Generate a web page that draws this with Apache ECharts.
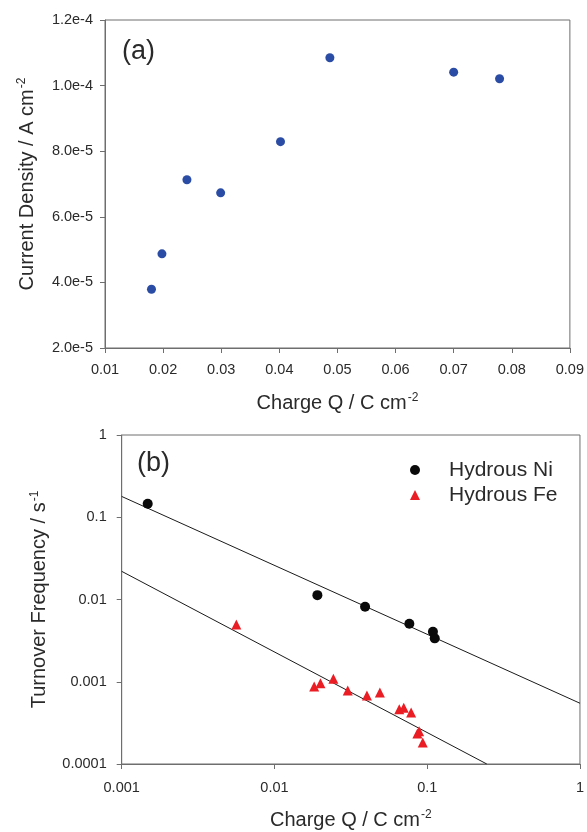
<!DOCTYPE html>
<html>
<head>
<meta charset="utf-8">
<script src="https://cdn.jsdelivr.net/npm/echarts@6/dist/echarts.min.js"></script>
<style>
html,body{margin:0;padding:0;background:#fff;}
#c{width:587px;height:832px;}
</style>
</head>
<body>
<div id="c"></div>
<script>
// ---- Panel (a): current density vs charge ----
var topQ = [0.0180, 0.0198, 0.0241, 0.0299, 0.0402, 0.0487, 0.0700, 0.0779];
var topJ = [3.79e-5, 4.87e-5, 7.13e-5, 6.73e-5, 8.29e-5, 1.085e-4, 1.041e-4, 1.021e-4];
var topXTicks = ['0.01','0.02','0.03','0.04','0.05','0.06','0.07','0.08','0.09'];
var topYTicks = ['2.0e-5','4.0e-5','6.0e-5','8.0e-5','1.0e-4','1.2e-4'];

// ---- Panel (b): turnover frequency vs charge (log-log) ----
var niQ   = [0.00148, 0.0191, 0.0392, 0.0764, 0.109, 0.112];
var niTOF = [0.146, 0.0113, 0.00815, 0.00507, 0.00406, 0.00337];
var feQ   = [0.00563, 0.0182, 0.0200, 0.0243, 0.0302, 0.0403, 0.0490, 0.0656, 0.0702, 0.0785, 0.0862, 0.0885, 0.0935];
var feTOF = [0.00498, 0.000875, 0.00096, 0.00109, 0.000782, 0.00068, 0.00074, 0.000464, 0.000482, 0.000424, 0.000235, 0.000250, 0.000183];
// fitted lines (end points)
var niFitQ   = [0.001, 1];
var niFitTOF = [0.179, 0.000548];
var feFitQ   = [0.001, 0.2455];
var feFitTOF = [0.0220, 0.0001];
var botXTicks = ['0.001','0.01','0.1','1'];
var botYTicks = ['0.0001','0.001','0.01','0.1','1'];

function zip(a, b) { return a.map(function (v, i) { return [v, b[i]]; }); }
function logLabel(arr, minExp) {
  return function (v) {
    var i = Math.round(Math.log10(v)) - minExp;
    return arr[i] !== undefined ? arr[i] : '';
  };
}

var FONT = "'Liberation Sans', Arial, Helvetica, sans-serif";
var AX = '#6e6e6e';
var TXT = '#2a2a2a';

var chart = echarts.init(document.getElementById('c'), null, {renderer: 'canvas'});

var axisCommon = {
  axisLine: {show: true, lineStyle: {color: AX, width: 1}},
  axisTick: {show: true, inside: false, length: 5, lineStyle: {color: AX}},
  splitLine: {show: false},
  minorTick: {show: false},
  nameTextStyle: {color: TXT, fontFamily: FONT}
};

function nameRich() {
  return {
    a: {fontSize: 20, fontFamily: FONT, color: TXT, lineHeight: 24},
    s: {fontSize: 12, fontFamily: FONT, color: TXT, lineHeight: 24, padding: [0, 0, 10, 1]}
  };
}

var option = {
  backgroundColor: '#ffffff',
  animation: false,
  textStyle: {fontFamily: FONT},
  title: [
    {text: '(a)', left: 122, top: 38, padding: 0, textStyle: {fontSize: 27, fontWeight: 'normal', color: TXT, fontFamily: FONT}},
    {text: '(b)', left: 137, top: 450, padding: 0, textStyle: {fontSize: 27, fontWeight: 'normal', color: TXT, fontFamily: FONT}}
  ],
  legend: {
    data: ['Hydrous Ni', 'Hydrous Fe'],
    orient: 'vertical',
    left: 410,
    top: 459,
    itemWidth: 10,
    itemHeight: 10,
    itemGap: 3,
    padding: 0,
    itemStyle: {opacity: 1},
    textStyle: {fontSize: 21, color: TXT, fontFamily: FONT, lineHeight: 22, padding: [0, 0, 0, 24]}
  },
  grid: [
    {left: 105, top: 20, width: 470, height: 328, show: true, borderColor: AX, borderWidth: 1, backgroundColor: 'transparent'},
    {left: 121.7, top: 435, width: 460, height: 330, show: true, borderColor: AX, borderWidth: 1, backgroundColor: 'transparent'}
  ],
  xAxis: [
    Object.assign({}, axisCommon, {
      gridIndex: 0, type: 'value', min: 0.01, max: 0.09, interval: 0.01,
      name: '{a|Charge Q / C cm}{s|-2}', nameLocation: 'middle', nameGap: 43,
      nameTextStyle: {rich: nameRich()},
      axisLabel: {margin: 14, fontSize: 14.5, color: TXT, fontFamily: FONT, showMaxLabel: true, showMinLabel: true,
        formatter: function (v) { return topXTicks[Math.round((v - 0.01) / 0.01)]; }}
    }),
    Object.assign({}, axisCommon, {
      gridIndex: 1, type: 'log', logBase: 10, min: 0.001, max: 1,
      name: '{a|Charge Q / C cm}{s|-2}', nameLocation: 'middle', nameGap: 44,
      nameTextStyle: {rich: nameRich()},
      axisLabel: {margin: 16, fontSize: 14.5, color: TXT, fontFamily: FONT, showMaxLabel: true, showMinLabel: true,
        formatter: logLabel(botXTicks, -3)}
    })
  ],
  yAxis: [
    Object.assign({}, axisCommon, {
      gridIndex: 0, type: 'value', min: 2e-5, max: 1.2e-4, interval: 2e-5,
      name: '{a|Current Density / A cm}{s|-2}', nameLocation: 'middle', nameGap: 66, nameRotate: 90,
      nameTextStyle: {rich: nameRich()},
      axisLabel: {margin: 12, fontSize: 14.5, color: TXT, fontFamily: FONT,
        formatter: function (v) { return topYTicks[Math.round((v - 2e-5) / 2e-5)]; }}
    }),
    Object.assign({}, axisCommon, {
      gridIndex: 1, type: 'log', logBase: 10, min: 0.0001, max: 1,
      name: '{a|Turnover Frequency / s}{s|-1}', nameLocation: 'middle', nameGap: 70, nameRotate: 90,
      nameTextStyle: {rich: nameRich()},
      axisLabel: {margin: 15, fontSize: 14.5, color: TXT, fontFamily: FONT, showMaxLabel: true, showMinLabel: true,
        formatter: logLabel(botYTicks, -4)}
    })
  ],
  series: [
    {
      name: 'Current Density', type: 'scatter', xAxisIndex: 0, yAxisIndex: 0,
      data: zip(topQ, topJ), symbol: 'circle', symbolSize: 9,
      itemStyle: {color: '#2b4ca4', opacity: 1}
    },
    {
      name: 'Ni fit', type: 'line', xAxisIndex: 1, yAxisIndex: 1,
      data: zip(niFitQ, niFitTOF), symbol: 'none', silent: true,
      lineStyle: {color: '#1a1a1a', width: 1}, z: 1
    },
    {
      name: 'Fe fit', type: 'line', xAxisIndex: 1, yAxisIndex: 1,
      data: zip(feFitQ, feFitTOF), symbol: 'none', silent: true,
      lineStyle: {color: '#1a1a1a', width: 1}, z: 1
    },
    {
      name: 'Hydrous Ni', type: 'scatter', xAxisIndex: 1, yAxisIndex: 1,
      data: zip(niQ, niTOF), symbol: 'circle', symbolSize: 10,
      itemStyle: {color: '#0a0a0a', opacity: 1}, z: 3
    },
    {
      name: 'Hydrous Fe', type: 'scatter', xAxisIndex: 1, yAxisIndex: 1,
      data: zip(feQ, feTOF), symbol: 'triangle', symbolSize: 10,
      itemStyle: {color: '#ea1c24', opacity: 1}, z: 3
    }
  ]
};
chart.setOption(option);
</script>
</body>
</html>
